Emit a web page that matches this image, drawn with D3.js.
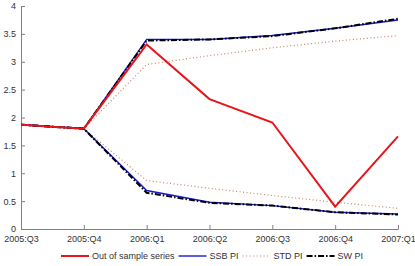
<!DOCTYPE html>
<html>
<head>
<meta charset="utf-8">
<script src="https://cdn.jsdelivr.net/npm/d3@7"></script>
<style>
  body { margin: 0; background: #fff; }
  svg { display: block; font-family: "Liberation Sans", Arial, sans-serif; }
  .axis path, .axis line { stroke: #808080; }
  .axis text { fill: #333; font-size: 9px; }
</style>
</head>
<body>
<div id="chart"></div>
<script>
var quarters = ["2005:Q3", "2005:Q4", "2006:Q1", "2006:Q2", "2006:Q3", "2006:Q4", "2007:Q1"];
var yTicks = [0, 0.5, 1, 1.5, 2, 2.5, 3, 3.5, 4];

var outOfSample = [1.87, 1.80, 3.31, 2.33, 1.91, 0.40, 1.66];
var ssbUpper = [1.87, 1.80, 3.40, 3.40, 3.47, 3.60, 3.75];
var ssbLower = [1.87, 1.80, 0.69, 0.48, 0.42, 0.30, 0.27];
var stdUpper = [1.87, 1.80, 2.95, 3.11, 3.25, 3.37, 3.47];
var stdLower = [1.87, 1.80, 0.87, 0.73, 0.60, 0.48, 0.37];
var swUpper = [1.87, 1.80, 3.38, 3.40, 3.46, 3.60, 3.77];
var swLower = [1.87, 1.80, 0.65, 0.47, 0.42, 0.30, 0.26];

var width = 415, height = 266;
var margin = {left: 21, right: 17, top: 6, bottom: 37};

var svg = d3.select("#chart").append("svg")
  .attr("width", width).attr("height", height);

var x = d3.scalePoint().domain(quarters).range([margin.left, width - margin.right]);
var y = d3.scaleLinear().domain([0, 4]).range([height - margin.bottom, margin.top]);

// axes, ticks pointing in
svg.append("g").attr("class", "axis")
  .attr("transform", "translate(0," + (height - margin.bottom) + ")")
  .call(d3.axisBottom(x).tickSizeInner(-4).tickSizeOuter(0).tickPadding(7));

svg.append("g").attr("class", "axis")
  .attr("transform", "translate(" + margin.left + ",0)")
  .call(d3.axisLeft(y).tickValues(yTicks).tickFormat(d3.format("")).tickSizeInner(-4).tickSizeOuter(0).tickPadding(5));

var line = d3.line()
  .x(function(d, i) { return x(quarters[i]); })
  .y(function(d) { return y(d); });

var series = [
  {name: "STD PI", data: [stdUpper, stdLower], color: "#c8826a", width: 1.2, dash: "1,2.5"},
  {name: "SSB PI", data: [ssbUpper, ssbLower], color: "#1a1acc", width: 1.4, dash: null},
  {name: "SW PI", data: [swUpper, swLower], color: "#000", width: 2, dash: "6,2,1.5,2"},
  {name: "Out of sample series", data: [outOfSample], color: "#e8151b", width: 2, dash: null}
];

series.forEach(function(s) {
  s.data.forEach(function(vals) {
    svg.append("path")
      .datum(vals)
      .attr("fill", "none")
      .attr("stroke", s.color)
      .attr("stroke-width", s.width)
      .attr("stroke-dasharray", s.dash)
      .attr("d", line);
  });
});

// legend
var legendItems = [series[3], series[1], series[0], series[2]];
var lx = 61, ly = 256;
legendItems.forEach(function(s) {
  svg.append("line")
    .attr("x1", lx).attr("x2", lx + 28)
    .attr("y1", ly).attr("y2", ly)
    .attr("stroke", s.color)
    .attr("stroke-width", s.width)
    .attr("stroke-dasharray", s.dash);
  var t = svg.append("text")
    .attr("x", lx + 31).attr("y", ly + 3)
    .attr("font-size", "9px").attr("fill", "#333")
    .text(s.name);
  lx += 31 + t.node().getComputedTextLength() + 4;
});
</script>
</body>
</html>
